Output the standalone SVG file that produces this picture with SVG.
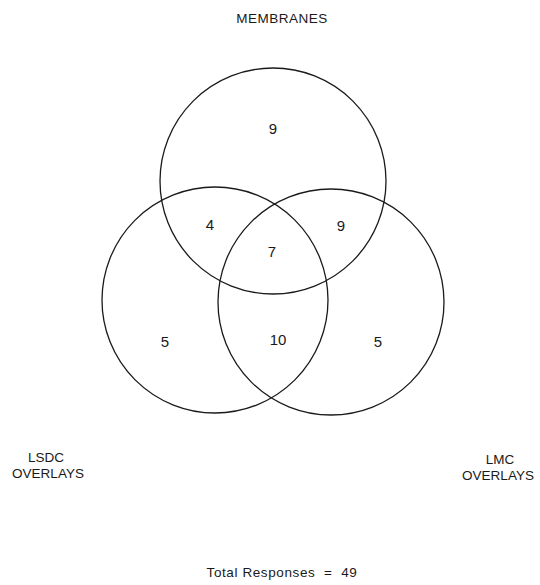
<svg xmlns="http://www.w3.org/2000/svg" width="540" height="585" viewBox="0 0 540 585">
<style>
.c{fill:none;stroke:#1a1a1a;stroke-width:1.3}
.t{font-family:"Liberation Sans",Arial,sans-serif;font-size:13.5px;fill:#1a1a1a;text-anchor:middle}
.n{font-family:"Liberation Sans",Arial,sans-serif;font-size:15px;fill:#1a1a1a;text-anchor:middle}
</style>
<rect width="540" height="585" fill="#fff"/>
<g id="membranes">
<circle class="c" cx="273" cy="181" r="113"/>
<text class="t" x="282" y="23" letter-spacing="0.5">MEMBRANES</text>
</g>
<g id="lsdc">
<circle class="c" cx="215" cy="300" r="113"/>
<text class="t" x="46" y="462">LSDC</text>
<text class="t" x="48" y="478">OVERLAYS</text>
</g>
<g id="lmc">
<circle class="c" cx="331" cy="302" r="113"/>
<text class="t" x="500" y="464">LMC</text>
<text class="t" x="498" y="480">OVERLAYS</text>
</g>
<g id="counts">
<text class="n" x="273" y="134">9</text>
<text class="n" x="210" y="230">4</text>
<text class="n" x="341" y="231">9</text>
<text class="n" x="272" y="257">7</text>
<text class="n" x="165" y="347">5</text>
<text class="n" x="278" y="345">10</text>
<text class="n" x="378" y="347">5</text>
</g>
<g id="total">
<text class="t" x="282" y="577" letter-spacing="0.6" xml:space="preserve">Total Responses  =  49</text>
</g>
</svg>
